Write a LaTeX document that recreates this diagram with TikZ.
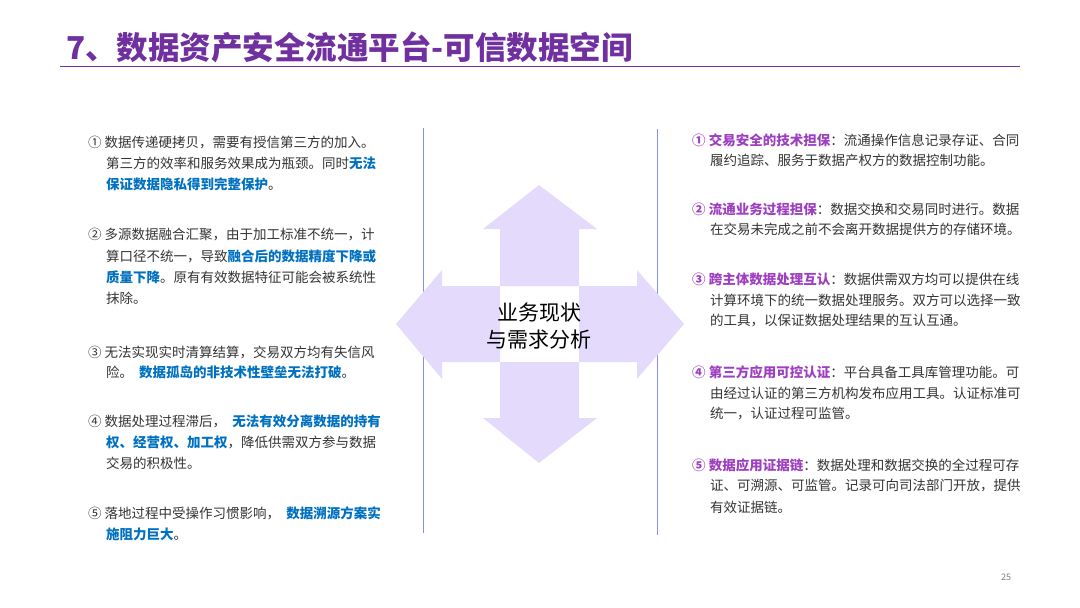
\documentclass[tikz,border=0pt]{standalone}
\usepackage{fontspec}
\setmainfont{Noto Sans CJK SC}
\definecolor{ttl}{HTML}{7030A0}
\definecolor{bl}{HTML}{0070C0}
\definecolor{pu}{HTML}{9E3FC0}
\definecolor{tx}{HTML}{333333}
\definecolor{arr}{HTML}{E3DAFC}
\definecolor{vl}{HTML}{8C8CF0}
\newcommand{\bb}[1]{\textcolor{bl}{\bfseries #1}}
\newcommand{\pp}[1]{\textcolor{pu}{\bfseries #1}}
\begin{document}
\begin{tikzpicture}[x=1pt,y=-1pt,
  ln/.style={anchor=west,inner sep=0pt,text=tx,font=\fontsize{13.5}{16}\selectfont}]
\useasboundingbox (0,0) rectangle (1080,608);
\node[anchor=west,inner sep=0pt,text=ttl,font=\fontsize{31.5}{34}\selectfont\bfseries] (title) at (66,47) {7、数据资产安全流通平台-可信数据空间};
\draw[ttl,line width=1pt] (60,66) -- (1020,66);
\node[text=gray,font=\fontsize{9}{10}\selectfont] (pg) at (1006,577) {25};
\draw[vl,line width=0.8pt] (423,128) -- (423,533);
\draw[vl,line width=0.8pt] (657,129) -- (657,535);
% arrows
\fill[arr] (500,286) -- (500,229) -- (483,229) -- (539,185) -- (597,229) -- (579,229) -- (579,286) -- cycle;
\fill[arr] (500,362) -- (500,418) -- (483,418) -- (539,463) -- (597,418) -- (579,418) -- (579,362) -- cycle;
\fill[arr] (500,286) -- (442,286) -- (442,270) -- (396,324) -- (442,379) -- (442,362) -- (500,362) -- cycle;
\fill[arr] (579,286) -- (637,286) -- (637,270) -- (684,324) -- (637,379) -- (637,362) -- (579,362) -- cycle;
\node[align=center,font=\fontsize{21}{27}\selectfont] (ctr) at (539,326) {业务现状\\与需求分析};
% left
\node[ln] (l1a) at (88,143) {① 数据传递硬拷贝，需要有授信第三方的加入。};
\node[ln] (l1b) at (106,163) {第三方的效率和服务效果成为瓶颈。同时\bb{无法}};
\node[ln] (l1c) at (106,184) {\bb{保证数据隐私得到完整保护}。};
\node[ln] (l2a) at (88,235) {② 多源数据融合汇聚，由于加工标准不统一，计};
\node[ln] (l2b) at (106,256) {算口径不统一，导致\bb{融合后的数据精度下降或}};
\node[ln] (l2c) at (106,277) {\bb{质量下降}。原有有效数据特征可能会被系统性};
\node[ln] (l2d) at (106,298) {抹除。};
\node[ln] (l3a) at (88,352) {③ 无法实现实时清算结算，交易双方均有失信风};
\node[ln] (l3b) at (106,372) {险。\ \ \bb{数据孤岛的非技术性壁垒无法打破}。};
\node[ln] (l4a) at (88,421) {④ 数据处理过程滞后，\ \ \bb{无法有效分离数据的持有}};
\node[ln] (l4b) at (106,442) {\bb{权、经营权、加工权}，降低供需双方参与数据};
\node[ln] (l4c) at (106,463) {交易的积极性。};
\node[ln] (l5a) at (88,513) {⑤ 落地过程中受操作习惯影响，\ \ \bb{数据溯源方案实}};
\node[ln] (l5b) at (106,534) {\bb{施阻力巨大}。};
% right
\node[ln] (r1a) at (692,140) {\pp{① 交易安全的技术担保}：流通操作信息记录存证、合同};
\node[ln] (r1b) at (710,160) {履约追踪、服务于数据产权方的数据控制功能。};
\node[ln] (r2a) at (692,209) {\pp{② 流通业务过程担保}：数据交换和交易同时进行。数据};
\node[ln] (r2b) at (710,229) {在交易未完成之前不会离开数据提供方的存储环境。};
\node[ln] (r3a) at (692,279) {\pp{③ 跨主体数据处理互认}：数据供需双方均可以提供在线};
\node[ln] (r3b) at (710,300) {计算环境下的统一数据处理服务。双方可以选择一致};
\node[ln] (r3c) at (710,321) {的工具，以保证数据处理结果的互认互通。};
\node[ln] (r4a) at (692,372) {\pp{④ 第三方应用可控认证}：平台具备工具库管理功能。可};
\node[ln] (r4b) at (710,393) {由经过认证的第三方机构发布应用工具。认证标准可};
\node[ln] (r4c) at (710,414) {统一，认证过程可监管。};
\node[ln] (r5a) at (692,465) {\pp{⑤ 数据应用证据链}：数据处理和数据交换的全过程可存};
\node[ln] (r5b) at (710,486) {证、可溯源、可监管。记录可向司法部门开放，提供};
\node[ln] (r5c) at (710,507) {有效证据链。};
\end{tikzpicture}
\end{document}
